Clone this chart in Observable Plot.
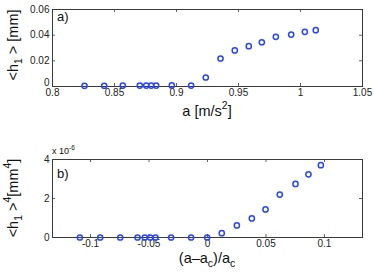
<!DOCTYPE html>
<html>
<head>
<meta charset="utf-8">
<script src="https://cdn.jsdelivr.net/npm/d3@7"></script>
<script src="https://cdn.jsdelivr.net/npm/@observablehq/plot@0.6"></script>
<style>
  html, body { margin: 0; padding: 0; background: #fff; }
  #chart { width: 374px; }
  #chart svg { display: block; }
</style>
</head>
<body>
<div id="chart"></div>
<script>
// Panel a) data
const aValues = [0.8258, 0.8417, 0.8567, 0.8704, 0.8756, 0.8796, 0.8836, 0.8962, 0.9118, 0.9236, 0.9355, 0.9470, 0.9583, 0.9688, 0.9801, 0.9925, 1.0035, 1.0123];
const h1Values = [0.0005, 0.0006, 0.0007, 0.0007, 0.0007, 0.0007, 0.0007, 0.0008, 0.0007, 0.0070, 0.0218, 0.0281, 0.0314, 0.0345, 0.0387, 0.0405, 0.0426, 0.0439];
// Panel b) data
const relValues = [-0.1091, -0.0917, -0.0746, -0.0598, -0.0536, -0.0490, -0.0444, -0.0311, -0.0140, -0.0003, 0.0122, 0.0251, 0.0379, 0.0496, 0.0618, 0.0752, 0.0863, 0.0969];
const h1FourthScaled = [0, 0, 0, 0, 0, 0, 0, 0, 0, 0, 0.22, 0.62, 0.98, 1.44, 2.20, 2.75, 3.24, 3.71]; // ×10^-6 mm^4
// Tick labels
const xTicksA = [0.8, 0.85, 0.9, 0.95, 1, 1.05];
const yTicksA = [0, 0.02, 0.04, 0.06];
const xTicksB = [-0.1, -0.05, 0, 0.05, 0.1];
const yTicksB = [0, 2, 4];

const fmt = d => String(+d.toFixed(3));
const blue = "#2645ff";
const frameColor = "#3a3a3a";
const font = "'Liberation Sans', Arial, Helvetica, sans-serif";

const dataA = aValues.map((a, i) => ({a, h: h1Values[i]}));
const dataB = relValues.map((r, i) => ({r, h4: h1FourthScaled[i]}));

function panel({data, xKey, yKey, xDomain, yDomain, xTicks, yTicks, height, marginTop, marginBottom, liftZero}) {
  const W = 374, mL = 52, mR = 12;
  const innerW = W - mL - mR;
  const innerH = height - marginTop - marginBottom;
  const tl = 3;
  const zeroTicks = yTicks.filter(d => d === 0);
  const otherTicks = yTicks.filter(d => d !== 0);
  return Plot.plot({
    width: W, height,
    marginLeft: mL, marginRight: mR, marginTop, marginBottom,
    style: {fontFamily: font, fontSize: "10px", color: "#222", background: "#fff"},
    x: {domain: xDomain, ticks: xTicks, tickFormat: fmt, tickSize: 0, tickPadding: 2, label: null},
    y: {domain: yDomain, axis: null},
    marks: [
      Plot.tickX(xTicks, {x: d => d, insetTop: innerH - tl, stroke: frameColor, strokeWidth: 0.8}),
      Plot.tickX(xTicks, {x: d => d, insetBottom: innerH - tl, stroke: frameColor, strokeWidth: 0.8}),
      Plot.tickY(yTicks, {y: d => d, insetRight: innerW - tl, stroke: frameColor, strokeWidth: 0.8}),
      Plot.tickY(yTicks, {y: d => d, insetLeft: innerW - tl, stroke: frameColor, strokeWidth: 0.8}),
      Plot.text(otherTicks, {y: d => d, text: fmt, frameAnchor: "left", textAnchor: "end", dx: -3, fill: "#222"}),
      Plot.text(zeroTicks, {y: d => d, text: fmt, frameAnchor: "left", textAnchor: "end", dx: -3, dy: liftZero ? -4 : 0, fill: "#222"}),
      Plot.frame({stroke: frameColor, strokeWidth: 1}),
      Plot.dot(data, {x: xKey, y: yKey, r: 2.6, stroke: blue, strokeWidth: 1.5, fill: "none"})
    ]
  });
}

function richText(svg, x, y, parts, {size = 13, anchor = "middle", rotate = 0} = {}) {
  const t = d3.select(svg).append("text")
    .attr("transform", `translate(${x},${y}) rotate(${rotate})`)
    .attr("text-anchor", anchor)
    .attr("font-family", font)
    .attr("font-size", size)
    .attr("fill", "#111");
  let shift = 0;
  for (const p of parts) {
    const target = p.s === "sub" ? size * 0.3 : p.s === "sup" ? -size * 0.45 : 0;
    const ts = t.append("tspan").text(p.t).attr("dy", target - shift);
    if (p.s) ts.attr("font-size", size * 0.72);
    shift = target;
  }
  return t;
}

const svgA = panel({data: dataA, xKey: "a", yKey: "h", xDomain: [0.8, 1.05], yDomain: [0, 0.06],
  xTicks: xTicksA, yTicks: yTicksA, height: 130, marginTop: 9, marginBottom: 44, liftZero: true});
const svgB = panel({data: dataB, xKey: "r", yKey: "h4", xDomain: [-0.1325, 0.1325], yDomain: [0, 4],
  xTicks: xTicksB, yTicks: yTicksB, height: 145, marginTop: 29, marginBottom: 38, liftZero: false});

// Panel a labels
richText(svgA, 57, 21, [{t: "a)"}], {size: 13, anchor: "start"});
richText(svgA, 207, 116, [{t: "a [m/s"}, {t: "2", s: "sup"}, {t: "]"}], {size: 14.5});
richText(svgA, 18, 45, [{t: "<h"}, {t: "1", s: "sub"}, {t: " > [mm]"}], {size: 14.5, rotate: -90});

// Panel b labels
richText(svgB, 57, 48, [{t: "b)"}], {size: 13, anchor: "start"});
richText(svgB, 207, 133, [{t: "(a\u2013a"}, {t: "c", s: "sub"}, {t: ")/a"}, {t: "c", s: "sub"}], {size: 14.5});
richText(svgB, 18, 68, [{t: "<h"}, {t: "1", s: "sub"}, {t: " >"}, {t: "4", s: "sup"}, {t: "[mm"}, {t: "4", s: "sup"}, {t: "]"}], {size: 14.5, rotate: -90});
richText(svgB, 52, 24, [{t: "x 10"}, {t: "-6", s: "sup"}], {size: 9, anchor: "start"});

document.getElementById("chart").append(svgA, svgB);
</script>
</body>
</html>
